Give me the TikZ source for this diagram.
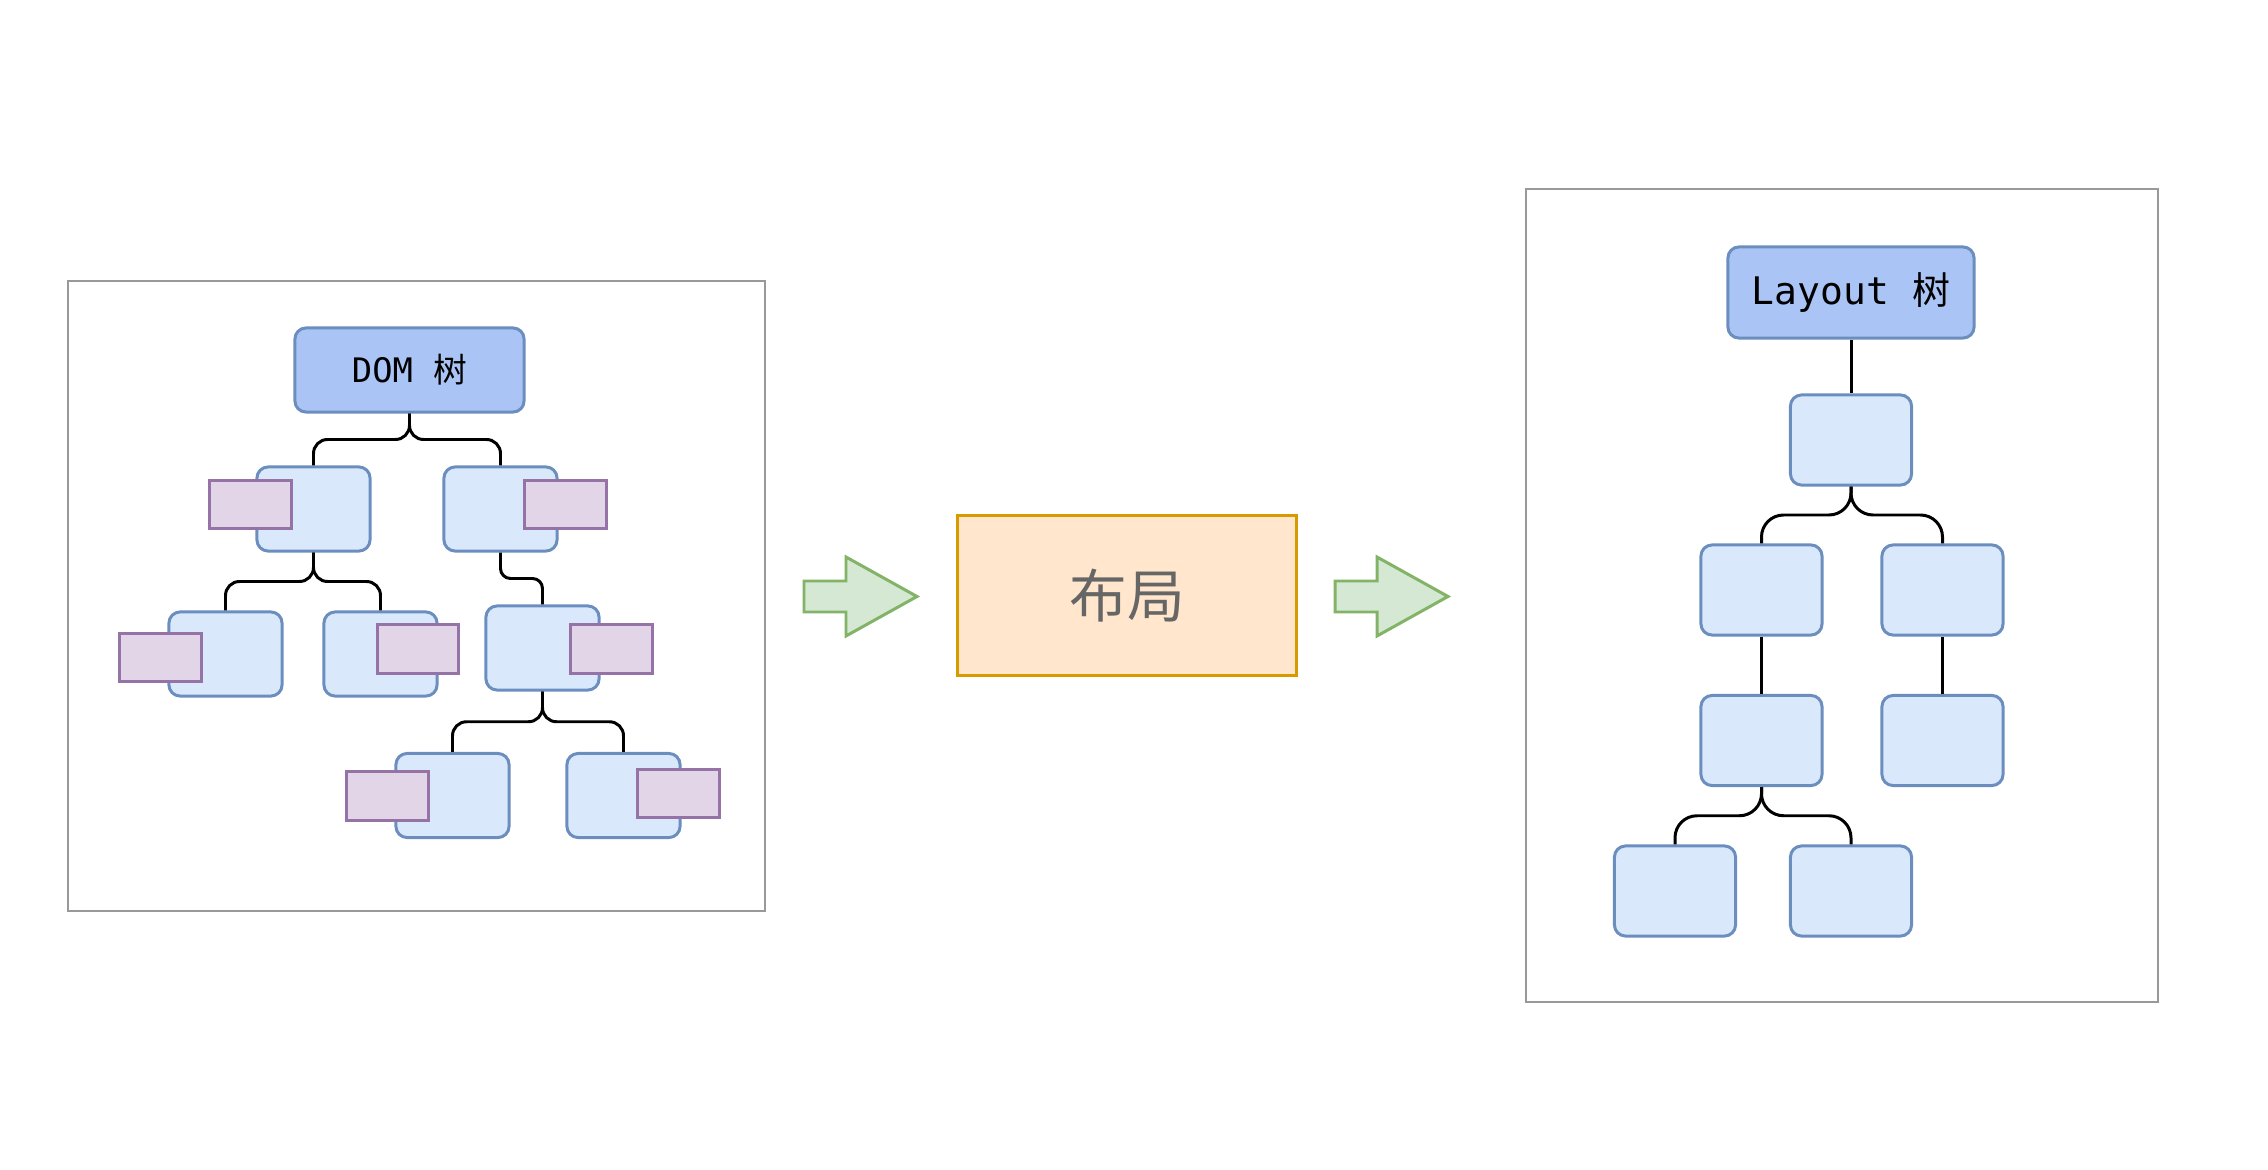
\documentclass[tikz,border=0pt]{standalone}
\usepackage{fontspec}
\setmonofont{DejaVu Sans Mono}
\newfontfamily\cjk{Noto Sans CJK SC}
\usetikzlibrary{calc}

\definecolor{rootfill}{HTML}{A9C4F5}
\definecolor{nodefill}{HTML}{DAE8FC}
\definecolor{nodeline}{HTML}{6C8EBF}
\definecolor{tagfill}{HTML}{E1D5E7}
\definecolor{tagline}{HTML}{9673A6}
\definecolor{arrowfill}{HTML}{D5E8D4}
\definecolor{arrowline}{HTML}{82B366}
\definecolor{stepfill}{HTML}{FFE6CC}
\definecolor{stepline}{HTML}{D79B00}
\definecolor{framegray}{HTML}{999999}
\definecolor{labelgray}{HTML}{666666}

% elbow connector from parent (bottom) to child (top)
\newcommand\branch[3][0.14cm]{\draw[link, rounded corners=#1] (#2.south) -- ($(#2.south)!.5!(#2.south |- #3.north)$) -| (#3.north);}

\begin{document}
\begin{tikzpicture}[x=0.01cm, y=-0.01cm,
    box/.style={draw=nodeline, fill=nodefill, line width=0.85pt, rounded corners=0.11cm,
        minimum width=1.13cm, minimum height=0.84cm, inner sep=0pt},
    rootbox/.style={box, fill=rootfill},
    tag/.style={draw=tagline, fill=tagfill, line width=0.85pt,
        minimum width=0.81cm, minimum height=0.48cm, inner sep=0pt},
    link/.style={draw, line width=0.85pt},
    frame/.style={draw=framegray, line width=0.75pt},
    fatarrow/.style={draw=arrowline, fill=arrowfill, line width=0.85pt}]

    \useasboundingbox (0,0) rectangle (2268,1170);

    % DOM tree
    \draw[frame] (68,281) rectangle (765,911);

    \node[rootbox, minimum width=2.29cm] (dom) at (409.5,370)
        {\fontsize{9.6}{11}\selectfont\ttfamily DOM \cjk 树};
    \node[box] (d1) at (313.5,509) {};
    \node[box] (d2) at (500.5,509) {};
    \node[box] (d11) at (225.5,654) {};
    \node[box] (d12) at (380.5,654) {};
    \node[box] (d21) at (542.5,648) {};
    \node[box] (d211) at (452.5,795.5) {};
    \node[box] (d212) at (623.5,795.5) {};

    \node[tag] (t1) at (250.5,504.5) {};
    \node[tag] (t2) at (565.5,504.5) {};
    \node[tag] (t11) at (160.5,657.5) {};
    \node[tag] (t12) at (418,649) {};
    \node[tag] (t21) at (611.5,649) {};
    \node[tag] (t211) at (387.5,796) {};
    \node[tag] (t212) at (678.5,793.5) {};

    \branch{dom}{d1}
    \branch{dom}{d2}
    \branch{d1}{d11}
    \branch{d1}{d12}
    \branch[0.1cm]{d2}{d21}
    \branch{d21}{d211}
    \branch{d21}{d212}

    % layout step
    \foreach \x in {804,1335}
        \draw[fatarrow] (\x,581) -- ++(42,0) -- ++(0,-24) -- ++(71,39.5)
            -- ++(-71,39.5) -- ++(0,-24) -- ++(-42,0) -- cycle;

    \node[draw=stepline, fill=stepfill, line width=0.85pt, minimum width=3.38cm,
        minimum height=1.59cm, text=labelgray, font=\fontsize{16.4}{20}\selectfont\cjk]
        (layout) at (1127,595.5) {布局};

    % Layout tree
    \draw[frame] (1526,189) rectangle (2158,1002);

    \node[rootbox, minimum width=2.46cm, minimum height=0.91cm] (lay) at (1851,292.5)
        {\fontsize{10.8}{12}\selectfont\ttfamily Layout \cjk 树};
    \node[box, minimum width=1.21cm, minimum height=0.9cm] (l0) at (1851,440) {};
    \node[box, minimum width=1.21cm, minimum height=0.9cm] (l1) at (1761.5,590) {};
    \node[box, minimum width=1.21cm, minimum height=0.9cm] (l2) at (1942.5,590) {};
    \node[box, minimum width=1.21cm, minimum height=0.9cm] (l11) at (1761.5,740.5) {};
    \node[box, minimum width=1.21cm, minimum height=0.9cm] (l21) at (1942.5,740.5) {};
    \node[box, minimum width=1.21cm, minimum height=0.9cm] (l111) at (1675,891) {};
    \node[box, minimum width=1.21cm, minimum height=0.9cm] (l112) at (1851,891) {};

    \draw[link] (lay) -- (l0);
    \branch[0.22cm]{l0}{l1}
    \branch[0.22cm]{l0}{l2}
    \draw[link] (l1) -- (l11);
    \draw[link] (l2) -- (l21);
    \branch[0.22cm]{l11}{l111}
    \branch[0.22cm]{l11}{l112}
\end{tikzpicture}
\end{document}
